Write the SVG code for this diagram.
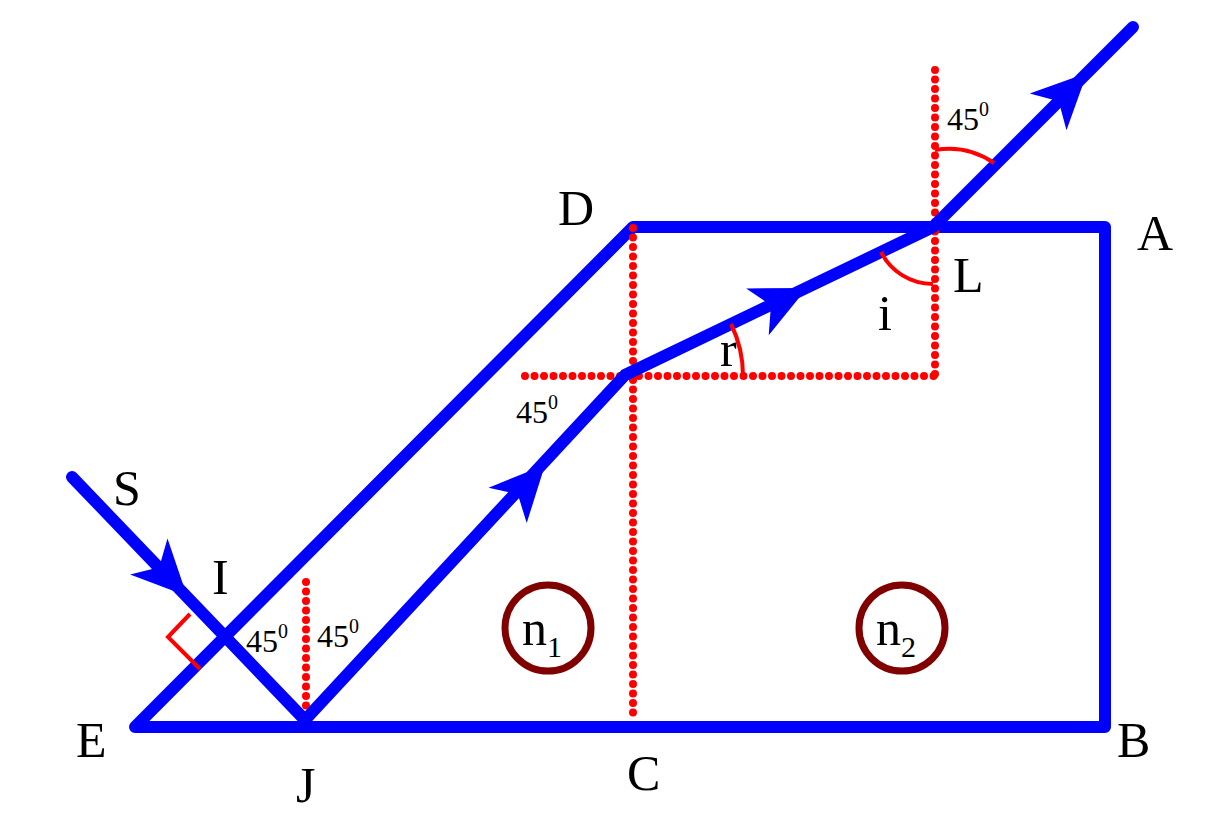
<svg xmlns="http://www.w3.org/2000/svg" width="1205" height="829" viewBox="0 0 1205 829">
<style>
.b{fill:none;stroke:#0000ff;stroke-width:12;stroke-linecap:round;stroke-linejoin:round}
.d{fill:none;stroke:#ff0000;stroke-width:8;stroke-dasharray:0 9.5;stroke-linecap:round}
.a{fill:none;stroke:#ff0000;stroke-width:4}
.t{font-family:"Liberation Serif",serif;font-size:50px;fill:#000}
.s{font-family:"Liberation Serif",serif;font-size:32px;fill:#000}
.c{fill:none;stroke:#800000;stroke-width:7}
</style>
<defs><path id="ah" d="M0,0 L-55,-26 L-40,0 L-55,26 Z" fill="#0000ff"/></defs>
<rect width="1205" height="829" fill="#fff"/>
<g id="prism"><path class="b" d="M135,727 L633,227 L1105,227 L1105,727 Z"/></g>
<g id="guides">
<line class="d" x1="633" y1="228" x2="633" y2="715"/>
<line class="d" x1="525" y1="376" x2="934" y2="376"/>
<line class="d" x1="935" y1="70" x2="935" y2="376"/>
<line class="d" x1="306" y1="582" x2="306" y2="722"/>
</g>
<g id="connectors">
<path class="b" d="M72,477 L305,720 L625,375 L933,227 L1133,27"/>
<use href="#ah" transform="translate(187,596) rotate(46)"/>
<use href="#ah" transform="translate(545,465) rotate(-47.2)"/>
<use href="#ah" transform="translate(807,288) rotate(-25.7)"/>
<use href="#ah" transform="translate(1087,73) rotate(-45)"/>
</g>
<g id="angles">
<path class="a" d="M190,614 L168,637 L200,669"/>
<path class="a" d="M881,252 A58,58 0 0 0 933,284"/>
<path class="a" d="M731,324 A118,118 0 0 1 743,376"/>
<path class="a" d="M935,150 A80,80 0 0 1 994,163"/>
</g>
<g id="n1"><circle class="c" cx="548" cy="628" r="43"/><text class="t" x="522" y="645">n<tspan font-size="30" dy="12">1</tspan></text></g>
<g id="n2"><circle class="c" cx="902" cy="628" r="43"/><text class="t" x="876" y="645">n<tspan font-size="30" dy="12">2</tspan></text></g>
<g id="labels">
<text class="t" x="558" y="225">D</text>
<text class="t" x="1137" y="250">A</text>
<text class="t" x="953" y="292">L</text>
<text class="t" x="878" y="330">i</text>
<text class="t" x="720" y="366">r</text>
<text class="t" x="76" y="757">E</text>
<text class="t" x="296" y="802">J</text>
<text class="t" x="627" y="790">C</text>
<text class="t" x="1117" y="757">B</text>
<text class="t" x="113" y="505">S</text>
<text class="t" x="212" y="594">I</text>
<text class="s" x="246" y="652">45<tspan font-size="20" dy="-14">0</tspan></text>
<text class="s" x="317" y="647">45<tspan font-size="20" dy="-14">0</tspan></text>
<text class="s" x="516" y="423">45<tspan font-size="20" dy="-14">0</tspan></text>
<text class="s" x="947" y="130">45<tspan font-size="20" dy="-14">0</tspan></text>
</g>
</svg>
